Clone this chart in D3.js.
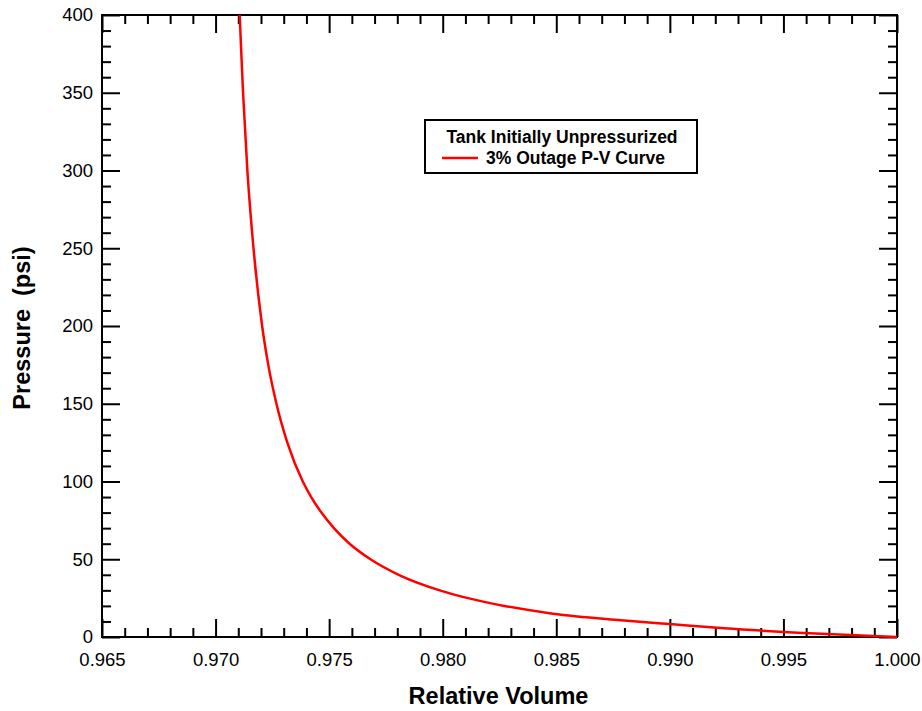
<!DOCTYPE html>
<html><head><meta charset="utf-8">
<script src="https://cdn.jsdelivr.net/npm/d3@7"></script>
<style>body{margin:0;background:#fff;} svg{display:block;}</style>
</head><body>
<script>
// Data
const volume   = [0.97106, 0.97121, 0.97140, 0.97167, 0.97205, 0.97232, 0.97268, 0.97316, 0.97384, 0.97421, 0.97466, 0.97521, 0.97590, 0.97682, 0.97806, 0.97987, 0.98111, 0.98271, 0.98485, 0.98785, 0.99000, 0.99239, 0.99564, 1.00000];
const pressure = [400, 350, 300, 250, 200, 175, 150, 125, 100, 90, 80, 70, 60, 50, 40, 30, 25, 20, 15, 10.8, 8.3, 5.6, 2.8, 0];
const xTicks = [0.965, 0.970, 0.975, 0.980, 0.985, 0.990, 0.995, 1.000];
const yTicks = [0, 50, 100, 150, 200, 250, 300, 350, 400];
const legendTitle = "Tank Initially Unpressurized";
const seriesName = "3% Outage P-V Curve";

const W = 922, H = 711;
const m = {left: 102, right: 25, top: 15, bottom: 74};
const svg = d3.select("body").append("svg").attr("width", W).attr("height", H);
const iw = W - m.left - m.right, ih = H - m.top - m.bottom;
const g = svg.append("g").attr("transform", `translate(${m.left},${m.top})`);

const x = d3.scaleLinear().domain([0.965, 1.0]).range([0, iw]);
const y = d3.scaleLinear().domain([0, 400]).range([ih, 0]);

const xMinor = d3.range(0, 36).map(i => 0.965 + i * 0.001).filter(v => Math.abs(((v - 0.965) / 0.005) - Math.round((v - 0.965) / 0.005)) > 1e-6);
const yMinor = d3.range(0, 41).map(i => i * 10).filter(v => v % 50 !== 0);

const font = "'Liberation Sans', Arial, sans-serif";
const MAJ = 18, MIN = 9;

function style(sel){
  sel.select(".domain").remove();
  sel.selectAll(".tick line").attr("stroke", "#000").attr("stroke-width", 2);
  sel.selectAll(".tick text").attr("font-family", font).attr("font-size", 18.5).attr("fill", "#000");
}

// bottom
g.append("g").attr("transform", `translate(0,${ih})`)
  .call(d3.axisBottom(x).tickValues(xTicks).tickFormat(d3.format(".3f")).tickSizeInner(-MAJ).tickSizeOuter(0).tickPadding(16)).call(style);
g.append("g").attr("transform", `translate(0,${ih})`)
  .call(d3.axisBottom(x).tickValues(xMinor).tickFormat("").tickSizeInner(-MIN).tickSizeOuter(0)).call(style);
// top
g.append("g").call(d3.axisTop(x).tickValues(xTicks).tickFormat("").tickSizeInner(-MAJ).tickSizeOuter(0)).call(style);
g.append("g").call(d3.axisTop(x).tickValues(xMinor).tickFormat("").tickSizeInner(-MIN).tickSizeOuter(0)).call(style);
// left
g.append("g").call(d3.axisLeft(y).tickValues(yTicks).tickFormat(d3.format("d")).tickSizeInner(-MAJ).tickSizeOuter(0).tickPadding(9)).call(style);
g.append("g").call(d3.axisLeft(y).tickValues(yMinor).tickFormat("").tickSizeInner(-MIN).tickSizeOuter(0)).call(style);
// right
g.append("g").attr("transform", `translate(${iw},0)`).call(d3.axisRight(y).tickValues(yTicks).tickFormat("").tickSizeInner(-MAJ).tickSizeOuter(0)).call(style);
g.append("g").attr("transform", `translate(${iw},0)`).call(d3.axisRight(y).tickValues(yMinor).tickFormat("").tickSizeInner(-MIN).tickSizeOuter(0)).call(style);

// frame
g.append("rect").attr("width", iw).attr("height", ih).attr("fill", "none").attr("stroke", "#000").attr("stroke-width", 2);

// curve
const data = volume.map((v, i) => ({v, p: pressure[i]}));
g.append("path").datum(data)
  .attr("fill", "none").attr("stroke", "#ff0000").attr("stroke-width", 2.5)
  .attr("d", d3.line().x(d => x(d.v)).y(d => y(d.p)).curve(d3.curveMonotoneX));

// axis titles
svg.append("text").attr("x", m.left + iw / 2 - 1).attr("y", 704).attr("text-anchor", "middle")
  .attr("font-family", font).attr("font-weight", "bold").attr("font-size", 23.5).text("Relative Volume");
svg.append("text").attr("transform", `translate(30,${m.top + ih / 2 + 2}) rotate(-90)`).attr("text-anchor", "middle")
  .attr("font-family", font).attr("font-weight", "bold").attr("font-size", 23.5).attr("xml:space", "preserve")
  .style("white-space", "pre").text("Pressure  (psi)");

// legend
const lg = svg.append("g");
lg.append("rect").attr("x", 425).attr("y", 120).attr("width", 272).attr("height", 53)
  .attr("fill", "#fff").attr("stroke", "#000").attr("stroke-width", 2);
lg.append("text").attr("x", 562).attr("y", 143).attr("text-anchor", "middle")
  .attr("font-family", font).attr("font-weight", "bold").attr("font-size", 17.5).text(legendTitle);
lg.append("line").attr("x1", 442).attr("x2", 478).attr("y1", 158).attr("y2", 158)
  .attr("stroke", "#ff0000").attr("stroke-width", 2.5);
lg.append("text").attr("x", 486).attr("y", 164)
  .attr("font-family", font).attr("font-weight", "bold").attr("font-size", 17.5).text(seriesName);
</script>
</body></html>
